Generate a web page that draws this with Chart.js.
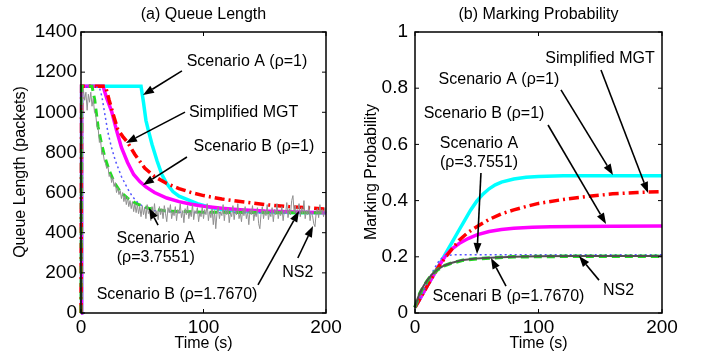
<!DOCTYPE html>
<html>
<head>
<meta charset="utf-8">
<script src="https://cdn.jsdelivr.net/npm/chart.js@4.4.1/dist/chart.umd.min.js"></script>
<style>
  body { margin: 0; background: #fff; }
  .box { position: absolute; top: 0; width: 351px; height: 356px; }
</style>
</head>
<body>
<div class="box" style="left:0"><canvas id="queue" width="351" height="356"></canvas></div>
<div class="box" style="left:351px"><canvas id="mark" width="351" height="356"></canvas></div>
<script>
"use strict";

// ---- (a) queue length data ----
var qCyanT = [0, 0.5, 49, 51, 53, 55, 58, 62, 66, 70, 75, 80, 87, 95, 105, 115, 130, 150, 175, 200];
var qCyanV = [0, 1130, 1130, 1050, 960, 910, 840, 760, 690, 645, 605, 582, 565, 545, 527, 516, 507, 503, 501, 500];

var qMagT = [0, 0.5, 18, 21, 25, 29, 33, 38, 43, 48, 53, 60, 70, 80, 90, 100, 115, 130, 150, 175, 200];
var qMagV = [0, 1130, 1130, 1070, 1005, 910, 825, 750, 690, 655, 628, 600, 573, 555, 542, 532, 522, 515, 508, 503, 500];

var qRedT = [0, 0.5, 20, 23, 27, 30, 34, 38, 44, 52, 60, 70, 80, 90, 100, 115, 130, 150, 170, 190, 200];
var qRedV = [0, 1130, 1130, 1060, 975, 915, 880, 850, 790, 722, 680, 645, 620, 600, 585, 568, 555, 540, 530, 522, 518];

var qBlueT = [0, 0.5, 15, 17, 19.3, 22, 24.7, 28, 33, 38, 42, 46.5, 52, 60, 80, 100, 150, 200];
var qBlueV = [0, 1125, 1125, 1080, 996, 900, 829, 760, 680, 620, 580, 548, 525, 510, 502, 500, 500, 500];

var qGreenT = [0, 0.5, 9, 11.2, 13.9, 16.5, 19.3, 23, 27.5, 32, 38, 45, 55, 70, 100, 150, 200];
var qGreenV = [0, 1130, 1130, 1062, 929, 850, 780, 710, 647, 605, 572, 545, 522, 508, 502, 500, 500];

// NS2 trace, one sample per second from t=0
var qNs2V = [0, 1080, 1110, 1060, 1100, 1010, 1090, 1050, 1100, 1030,
  1070, 1000, 990, 930, 920, 850, 860, 790, 800, 760,
  745, 720, 730, 680, 690, 650, 675, 630, 650, 600,
  625, 590, 610, 570, 600, 555, 585, 540, 575, 530,
  560, 520, 555, 505, 545, 500, 540, 495, 530, 480,
  535, 490, 525, 470, 540, 495, 515, 460, 530, 485,
  545, 480, 510, 465, 530, 490, 520, 470, 535, 495,
  455, 525, 500, 540, 470, 505, 485, 530, 460, 515,
  495, 545, 475, 510, 450, 520, 490, 535, 470, 505,
  480, 540, 465, 510, 495, 525, 455, 500, 480, 530,
  470, 515, 490, 545, 460, 505, 475, 520, 440, 510,
  420, 495, 530, 470, 505, 485, 540, 460, 515, 490,
  525, 450, 500, 480, 535, 465, 510, 490, 545, 470,
  500, 455, 520, 485, 530, 470, 505, 440, 515, 490,
  535, 460, 500, 480, 525, 445, 420, 495, 530, 470,
  510, 485, 540, 465, 500, 480, 525, 455, 515, 490,
  545, 470, 505, 485, 530, 460, 510, 495, 550, 475,
  520, 490, 560, 585, 500, 535, 470, 515, 545, 480,
  525, 495, 560, 470, 510, 490, 535, 460, 505, 485,
  445, 430, 500, 520, 475, 540, 495, 515, 480, 525, 500];

// ---- (b) marking probability data ----
var pCyanT = [0, 5, 10, 15, 20, 25, 30, 35, 40, 45, 50, 55, 60, 65, 70, 80, 90, 100, 120, 150, 200];
var pCyanV = [0.02, 0.058, 0.097, 0.135, 0.174, 0.213, 0.251, 0.29, 0.328, 0.366, 0.398, 0.423, 0.442, 0.456, 0.466, 0.477, 0.483, 0.486, 0.488, 0.488, 0.488];

var pRedT = [0, 5, 10, 15, 20, 25, 30, 36, 43, 50, 60, 70, 80, 90, 100, 120, 140, 160, 180, 200];
var pRedV = [0.02, 0.058, 0.097, 0.135, 0.17, 0.2, 0.228, 0.26, 0.287, 0.307, 0.333, 0.353, 0.367, 0.379, 0.39, 0.404, 0.415, 0.424, 0.429, 0.432];

var pMagT = [0, 5, 10, 15, 20, 25, 30, 36, 43, 50, 60, 70, 80, 95, 110, 130, 160, 200];
var pMagV = [0.02, 0.058, 0.097, 0.135, 0.172, 0.205, 0.228, 0.248, 0.265, 0.278, 0.29, 0.297, 0.302, 0.305, 0.307, 0.308, 0.309, 0.31];

var pBlueT = [0, 5, 10, 15, 20, 25, 30, 40, 60, 100, 200];
var pBlueV = [0.02, 0.06, 0.105, 0.153, 0.19, 0.204, 0.207, 0.207, 0.207, 0.207, 0.207];

var pGreenT = [0, 2, 4, 7, 10, 14, 18, 23, 30, 39, 50, 61, 80, 100, 130, 160, 200];
var pGreenV = [0.02, 0.05, 0.07, 0.095, 0.115, 0.138, 0.153, 0.167, 0.178, 0.188, 0.193, 0.196, 0.2, 0.201, 0.202, 0.202, 0.202];

var pNs2T = [0, 2, 4, 7, 10, 14, 18, 23, 30, 39, 50, 61, 80, 100, 130, 160, 200];
var pNs2V = [0.02, 0.05, 0.072, 0.097, 0.117, 0.139, 0.154, 0.168, 0.179, 0.189, 0.194, 0.197, 0.2, 0.202, 0.203, 0.203, 0.203];

// annotations: text centre, arrow tail, arrow tip (data units)
var queueNotes = [
  { lines: ['Scenario A (\u03c1=1)'], at: [135.5, 1251], from: [82.4, 1206], to: [50.6, 1086] },
  { lines: ['Simplified MGT'], at: [132.7, 997], from: [84.9, 1001], to: [36.7, 847] },
  { lines: ['Scenario B (\u03c1=1)'], at: [141.2, 827], from: [86.5, 777], to: [50.6, 638] },
  { lines: ['Scenario A', '(\u03c1=3.7551)'], at: [61, 321], from: [62.9, 438], to: [55.5, 523] },
  { lines: ['Scenario B (\u03c1=1.7670)'], at: [78.4, 90], from: [144.5, 140], to: [178, 508] },
  { lines: ['NS2'], at: [177, 199], from: [177, 274], to: [189.4, 433] }
];
var markNotes = [
  { lines: ['Simplified MGT'], at: [149.8, 0.904], from: [150.6, 0.865], to: [188.7, 0.427] },
  { lines: ['Scenario A (\u03c1=1)'], at: [68, 0.829], from: [118.2, 0.794], to: [160.3, 0.491] },
  { lines: ['Scenario B (\u03c1=1)'], at: [55.9, 0.708], from: [107.7, 0.669], to: [154.7, 0.317] },
  { lines: ['Scenario A', '(\u03c1=3.7551)'], at: [51.8, 0.568], from: [53.4, 0.498], to: [50.2, 0.21] },
  { lines: ['Scenari B (\u03c1=1.7670)'], at: [75.7, 0.057], from: [73.7, 0.096], to: [61.5, 0.196] },
  { lines: ['NS2'], at: [164.8, 0.078], from: [149, 0.117], to: [132.8, 0.203] }
];

var FONT = '"Liberation Sans", Arial, sans-serif';

function pts(ts, vs) {
  return vs.map(function (v, i) { return { x: ts ? ts[i] : i, y: v }; });
}

function line(data, color, width, dash) {
  return {
    data: data, borderColor: color, borderWidth: width, borderDash: dash || [],
    pointRadius: 0, tension: 0, fill: false, clip: false
  };
}

function arrow(ctx, x1, y1, x2, y2) {
  var a = Math.atan2(y2 - y1, x2 - x1), L = 11, W = 4;
  var bx = x2 - L * Math.cos(a), by = y2 - L * Math.sin(a);
  ctx.beginPath();
  ctx.moveTo(x1, y1);
  ctx.lineTo(bx, by);
  ctx.stroke();
  ctx.beginPath();
  ctx.moveTo(x2, y2);
  ctx.lineTo(bx + W * Math.sin(a), by - W * Math.cos(a));
  ctx.lineTo(bx - W * Math.sin(a), by + W * Math.cos(a));
  ctx.closePath();
  ctx.fill();
}

// matlab-ish frame, inward ticks, titles and arrows
function decor(title, yTitle, notes) {
  return {
    id: 'decor',
    afterDatasetsDraw: function (chart) {
      var ctx = chart.ctx, a = chart.chartArea, sx = chart.scales.x, sy = chart.scales.y;
      ctx.save();
      ctx.strokeStyle = '#000';
      ctx.fillStyle = '#000';
      ctx.lineWidth = 1.5;
      ctx.setLineDash([]);
      ctx.strokeRect(a.left, a.top, a.right - a.left, a.bottom - a.top);
      ctx.lineWidth = 1;
      ctx.beginPath();
      sx.ticks.forEach(function (t) {
        var x = sx.getPixelForValue(t.value);
        ctx.moveTo(x, a.bottom); ctx.lineTo(x, a.bottom - 4);
        ctx.moveTo(x, a.top); ctx.lineTo(x, a.top + 4);
      });
      sy.ticks.forEach(function (t) {
        var y = sy.getPixelForValue(t.value);
        ctx.moveTo(a.left, y); ctx.lineTo(a.left + 4, y);
        ctx.moveTo(a.right, y); ctx.lineTo(a.right - 4, y);
      });
      ctx.stroke();

      ctx.font = '16px ' + FONT;
      ctx.textAlign = 'center';
      ctx.textBaseline = 'middle';
      var cx = (a.left + a.right) / 2;
      ctx.fillText(title, cx, 15);
      ctx.fillText('Time (s)', cx, 344);
      ctx.save();
      ctx.translate(chart.options.yTitleX, 172);
      ctx.rotate(-Math.PI / 2);
      ctx.fillText(yTitle, 0, 0);
      ctx.restore();

      ctx.lineWidth = 1.6;
      notes.forEach(function (n) {
        var tx = sx.getPixelForValue(n.at[0]), ty = sy.getPixelForValue(n.at[1]);
        var off = (n.lines.length - 1) * 19 / 2;
        n.lines.forEach(function (s, i) { ctx.fillText(s, tx, ty - off + i * 19); });
        arrow(ctx, sx.getPixelForValue(n.from[0]), sy.getPixelForValue(n.from[1]),
          sx.getPixelForValue(n.to[0]), sy.getPixelForValue(n.to[1]));
      });
      ctx.restore();
    }
  };
}

function makeChart(id, datasets, yMax, yStep, padRight, yWidth, yPad, title, yTitle, yTitleX, notes) {
  return new Chart(document.getElementById(id), {
    type: 'line',
    data: { datasets: datasets },
    options: {
      responsive: false,
      animation: false,
      devicePixelRatio: 1,
      yTitleX: yTitleX,
      layout: { padding: { left: 0, right: padRight, top: 32, bottom: 0 } },
      plugins: { legend: { display: false }, tooltip: { enabled: false }, title: { display: false } },
      scales: {
        x: {
          type: 'linear', min: 0, max: 200,
          grid: { display: false, drawTicks: false }, border: { display: false },
          ticks: { stepSize: 100, autoSkip: false, maxRotation: 0, padding: 3, color: '#000',
            font: { family: FONT, size: 19 }, callback: function (v) { return String(v); } },
          afterFit: function (s) { s.height = 43; }
        },
        y: {
          min: 0, max: yMax,
          grid: { display: false, drawTicks: false }, border: { display: false },
          ticks: { stepSize: yStep, autoSkip: false, padding: yPad, color: '#000',
            font: { family: FONT, size: 19 }, callback: function (v) { return String(+v.toFixed(2)); } },
          afterFit: function (s) { s.width = yWidth; }
        }
      }
    },
    plugins: [decor(title, yTitle, notes)]
  });
}

// first dataset ends up on top
makeChart('queue', [
  line(pts(null, qNs2V), '#909090', 1),
  line(pts(qGreenT, qGreenV), '#22dd22', 3, [8, 5]),
  line(pts(qBlueT, qBlueV), '#5555ff', 1.5, [2, 3]),
  line(pts(qRedT, qRedV), '#ff0000', 3.5, [10, 4, 2, 4]),
  line(pts(qMagT, qMagV), '#ff00ff', 3.5),
  line(pts(qCyanT, qCyanV), '#00ffff', 3.5)
], 1400, 200, 25, 81, 4, '(a) Queue Length', 'Queue Length (packets)', 21, queueNotes);

makeChart('mark', [
  line(pts(pNs2T, pNs2V), '#505050', 2),
  line(pts(pGreenT, pGreenV), '#22dd22', 3.5, [8, 5]),
  line(pts(pBlueT, pBlueV), '#5555ff', 1.5, [2, 3]),
  line(pts(pRedT, pRedV), '#ff0000', 3.5, [10, 4, 2, 4]),
  line(pts(pMagT, pMagV), '#ff00ff', 3.5),
  line(pts(pCyanT, pCyanV), '#00ffff', 3.5)
], 1, 0.2, 40, 64, 7, '(b) Marking Probability', 'Marking Probability', 21, markNotes);
</script>
</body>
</html>
